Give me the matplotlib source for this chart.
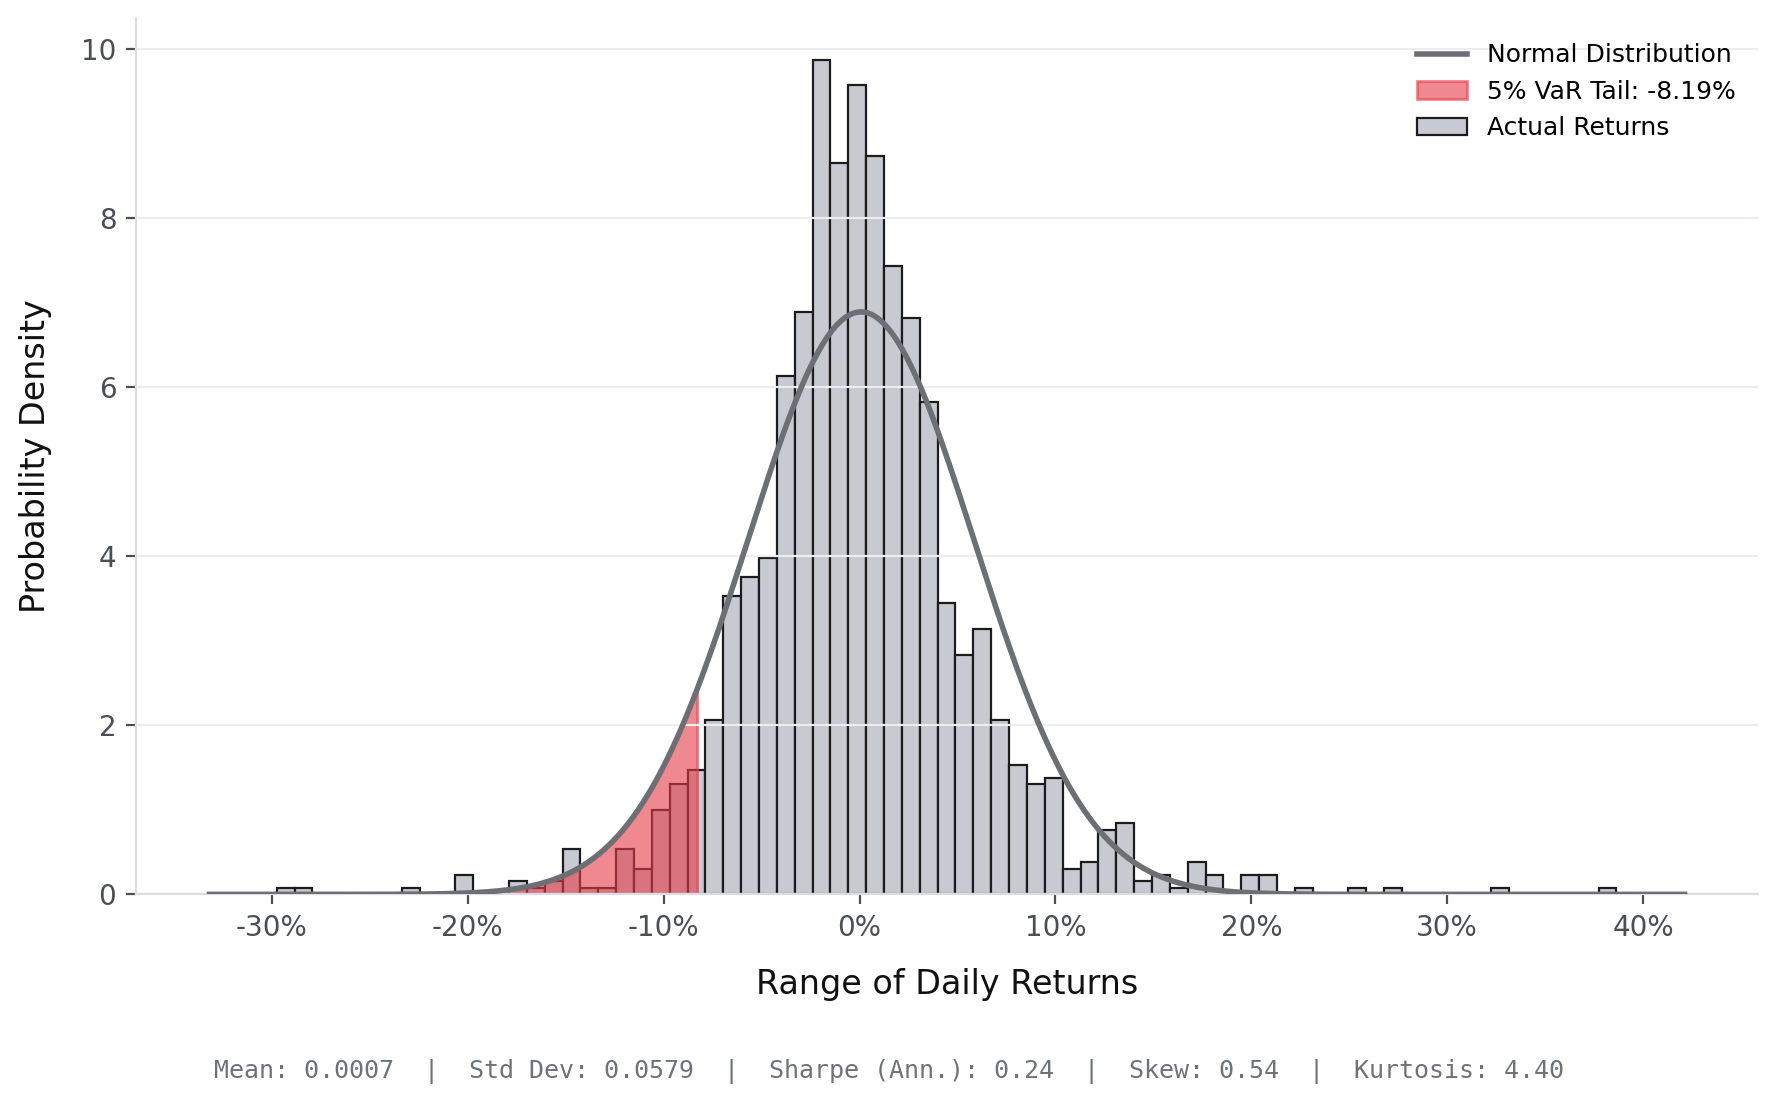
import numpy as np
import matplotlib
matplotlib.use("Agg")
import matplotlib.pyplot as plt
from matplotlib.ticker import FuncFormatter

# ---- data ----
bin_start = -0.29760          # left edge of first populated bin (fraction)
bin_width = 0.00912           # histogram bin width (fraction)
density = [
    0.077, 0.077, 0.0, 0.0, 0.0, 0.0, 0.0, 0.077, 0.0, 0.0,
    0.230, 0.0, 0.0, 0.153, 0.077, 0.153, 0.536, 0.077, 0.077, 0.536,
    0.306, 0.996, 1.302, 1.470, 2.068, 3.524, 3.753, 3.983, 6.128, 6.894,
    9.870, 8.656, 9.575, 8.732, 7.430, 6.817, 5.822, 3.447, 2.834, 3.141,
    2.068, 1.532, 1.302, 1.379, 0.306, 0.383, 0.766, 0.843, 0.153, 0.230,
    0.077, 0.383, 0.230, 0.0, 0.230, 0.230, 0.0, 0.077, 0.0, 0.0,
    0.077, 0.0, 0.077, 0.0, 0.0, 0.0, 0.0, 0.0, 0.077, 0.0,
    0.0, 0.0, 0.0, 0.0, 0.077,
]
ret_min = -0.3319
ret_max = 0.4212
mean_ret = 0.0007
std_ret = 0.0579
var_5 = -0.0819
stats_text = ("Mean: 0.0007  |  Std Dev: 0.0579  |  Sharpe (Ann.): 0.24  |  "
              "Skew: 0.54  |  Kurtosis: 4.40")

# ---- colours ----
bar_face = "#c7cbd1"
bar_edge = "#1c1c1e"
line_col = "#6c7075"
red_col = "#e63946"
spine_col = "#dcdde1"
grid_col = "#ebedf0"
tick_col = "#4a4f55"

W, H, DPI = 1777, 1105, 200
fig = plt.figure(figsize=(W / DPI, H / DPI), dpi=DPI)
fig.patch.set_facecolor("white")
ax = fig.add_axes([0.0764, 0.1906, 0.9131, 0.79284])

dens = np.array(density)
lefts = bin_start + np.arange(len(dens)) * bin_width
nz = dens > 0
bars = ax.bar(lefts[nz], dens[nz], width=bin_width, align="edge",
              color=bar_face, edgecolor=bar_edge, linewidth=0.8,
              label="Actual Returns", zorder=1)

x = np.linspace(ret_min, ret_max, 600)
pdf = np.exp(-0.5 * ((x - mean_ret) / std_ret) ** 2) / (std_ret * np.sqrt(2 * np.pi))
mask = x <= var_5
fill = ax.fill_between(x[mask], 0, pdf[mask], color=red_col, alpha=0.6,
                       label=f"5% VaR Tail: {var_5*100:.2f}%", zorder=1.2)
line, = ax.plot(x, pdf, color=line_col, lw=2.0, label="Normal Distribution", zorder=3)

ax.set_axisbelow("line")
ax.grid(axis="y", color=grid_col, lw=0.8, zorder=1.5)
ax.grid(axis="x", visible=False)

for s in ["top", "right"]:
    ax.spines[s].set_visible(False)
for s in ["left", "bottom"]:
    ax.spines[s].set_color(spine_col)
    ax.spines[s].set_linewidth(0.8)

ax.xaxis.set_major_formatter(FuncFormatter(lambda v, _: f"{v*100:.0f}%"))
ax.tick_params(axis="both", colors=tick_col, labelsize=10, length=3.5, width=0.8)

ax.set_xlabel("Range of Daily Returns", fontsize=12, color="#111111", va="center")
ax.set_ylabel("Probability Density", fontsize=12, color="#111111", va="center")
ax.xaxis.set_label_coords(0.5, -0.103)
ax.yaxis.set_label_coords(-0.062, 0.5)

ax.legend(handles=[line, fill, bars], loc="upper right", frameon=False,
          fontsize=9, labelspacing=0.5, bbox_to_anchor=(1.0, 0.997))

fig.text(0.5, 0.030, stats_text, ha="center", va="center",
         family="DejaVu Sans Mono", fontsize=9, color="#6c737a")

fig.savefig("out.png", dpi=DPI, facecolor="white")
